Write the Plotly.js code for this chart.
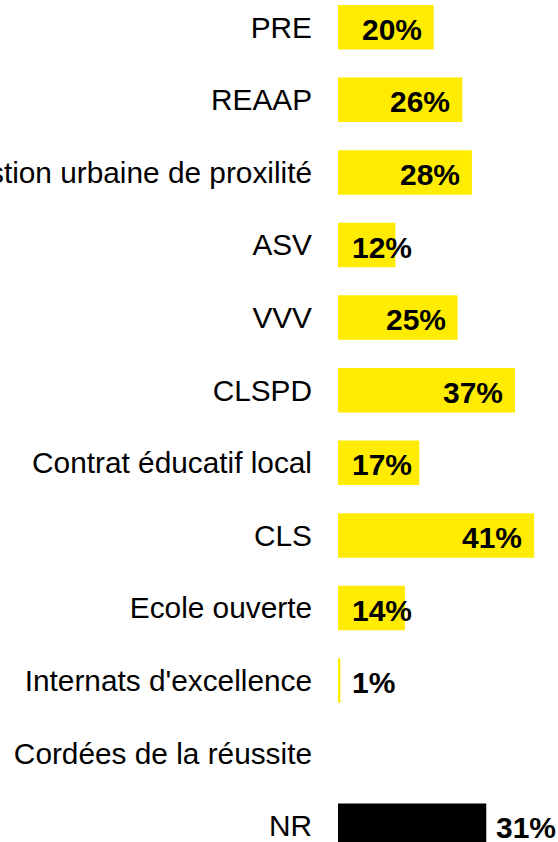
<!DOCTYPE html>
<html>
<head>
<meta charset="utf-8">
<script src="https://cdn.plot.ly/plotly-3.0.1.min.js"></script>
<style>
html, body { margin: 0; padding: 0; background: #ffffff; overflow: hidden; }
#chart { width: 558px; height: 842px; }
</style>
</head>
<body>
<div id="chart"></div>
<script>
// ---- Data ----
var categories = [
  "PRE",
  "REAAP",
  "Gestion urbaine de proxilité",
  "ASV",
  "VVV",
  "CLSPD",
  "Contrat éducatif local",
  "CLS",
  "Ecole ouverte",
  "Internats d'excellence",
  "Cordées de la réussite",
  "NR"
];
var values = [20, 26, 28, 12, 25, 37, 17, 41, 14, 0.5, 0, 31];
var outsideLabel = [false, false, false, false, false, false, false, false, false, false, false, true];

var yellow = "#FFEC00";
var colors = categories.map(function (c) { return c === "NR" ? "#000000" : yellow; });

// ---- Layout constants ----
var W = 558, H = 842;
var marginL = 338, marginR = 0;
var xMax = 46;
var pxPerUnit = (W - marginL - marginR) / xMax;
var labelFont = { family: "Liberation Sans, Arial, sans-serif", size: 30, color: "#000000", weight: "bold" };
var labelW = 60;

var annotations = [];
values.forEach(function (v, i) {
  if (!v) return;
  var txt = Math.round(v) + "%";
  var a = { x: v, y: categories[i], xref: "x", yref: "y", text: txt, showarrow: false,
            font: labelFont, yshift: -2, borderpad: 0 };
  if (outsideLabel[i]) {
    a.xanchor = "left"; a.xshift = 9;
  } else if (v * pxPerUnit >= labelW + 22) {
    a.xanchor = "right"; a.xshift = -11;
  } else {
    a.x = 0; a.xanchor = "left"; a.xshift = 13;
  }
  annotations.push(a);
});

var trace = {
  type: "bar",
  orientation: "h",
  y: categories,
  x: values,
  marker: { color: colors, line: { width: 0 } },
  hoverinfo: "skip"
};

var firstCenterPx = 27.2, spacingPx = 72.6;
var yTop = -firstCenterPx / spacingPx;
var yBottom = (H - firstCenterPx) / spacingPx;

var layout = {
  width: W, height: H,
  margin: { l: marginL, r: marginR, t: 0, b: 0, pad: 0 },
  paper_bgcolor: "#ffffff",
  plot_bgcolor: "#ffffff",
  showlegend: false,
  bargap: 0.387,
  xaxis: { range: [0, xMax], visible: false, fixedrange: true },
  yaxis: {
    type: "category",
    range: [yBottom, yTop],
    showgrid: false, zeroline: false, showline: false,
    ticks: "", ticklabelstandoff: 25,
    automargin: false,
    tickfont: { family: "Liberation Sans, Arial, sans-serif", size: 29.8, color: "#000000" },
    fixedrange: true
  },
  annotations: annotations
};

Plotly.newPlot("chart", [trace], layout, { staticPlot: true, displayModeBar: false });
</script>
</body>
</html>
